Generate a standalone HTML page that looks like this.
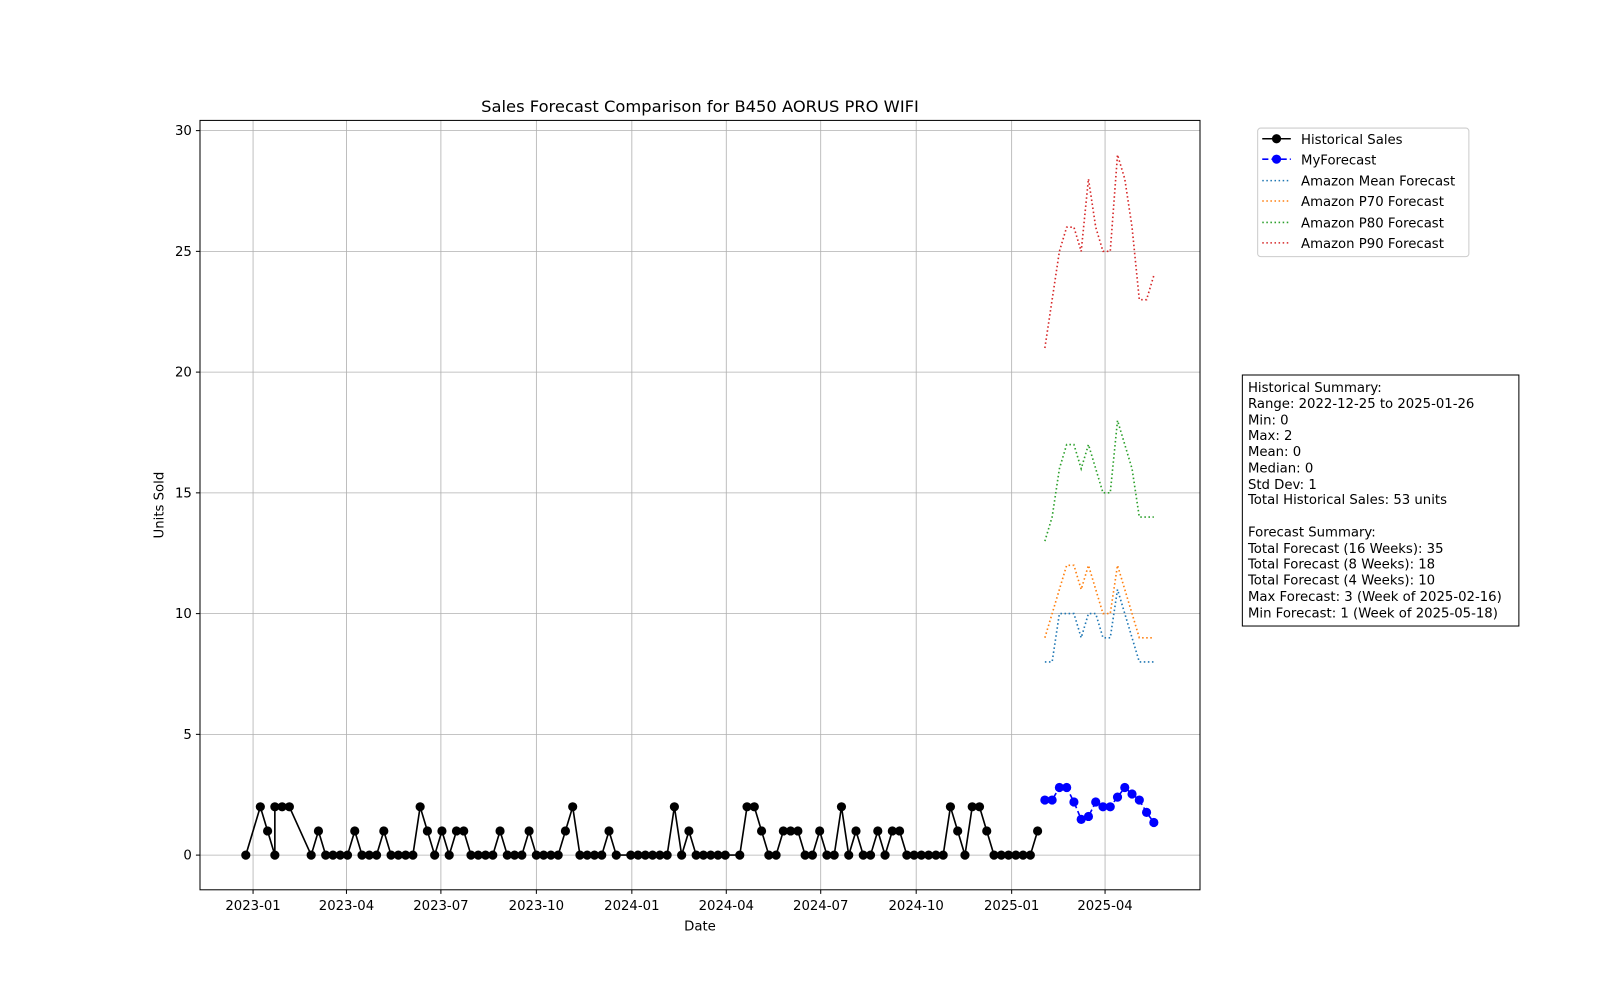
<!DOCTYPE html>
<html><head><meta charset="utf-8"><style>
body{margin:0;background:#fff;}
svg{display:block;font-family:"DejaVu Sans","Liberation Sans",sans-serif;}
</style></head><body>
<svg id="chart" width="1600" height="1000" viewBox="0 0 1568 980">
<rect width="1568" height="980" fill="#fff"/>
<g id="grid"></g>
<g id="series"></g>
<rect x="196" y="118" width="980" height="754" fill="none" stroke="#000" stroke-width="1"/>
<g id="ticks"></g>
<text x="686" y="110" font-size="16" text-anchor="middle">Sales Forecast Comparison for B450 AORUS PRO WIFI</text>
<text x="686" y="912" font-size="13" text-anchor="middle">Date</text>
<text x="160" y="495" font-size="13" text-anchor="middle" transform="rotate(-90 160 495)">Units Sold</text>
<g>
<rect x="1232.5" y="125.5" width="207" height="126" rx="3" fill="#fff" stroke="#ccc"/>
<g><line x1="1237" y1="136" x2="1265" y2="136" stroke="#000" stroke-width="1.5"/><circle cx="1251" cy="136" r="4.5"/><text x="1275" y="141" font-size="13">Historical Sales</text></g>
<g><line x1="1237" y1="156" x2="1265" y2="156" stroke="#00f" stroke-width="1.5" stroke-dasharray="6,3"/><circle cx="1251" cy="156" r="4.5" fill="#00f"/><text x="1275" y="161" font-size="13">MyForecast</text></g>
<g><line x1="1237" y1="177" x2="1265" y2="177" stroke="#1f77b4" stroke-width="1.5" stroke-dasharray="1.5,2.5"/><text x="1275" y="182" font-size="13">Amazon Mean Forecast</text></g>
<g><line x1="1237" y1="197" x2="1265" y2="197" stroke="#ff7f0e" stroke-width="1.5" stroke-dasharray="1.5,2.5"/><text x="1275" y="202" font-size="13">Amazon P70 Forecast</text></g>
<g><line x1="1237" y1="218" x2="1265" y2="218" stroke="#2ca02c" stroke-width="1.5" stroke-dasharray="1.5,2.5"/><text x="1275" y="223" font-size="13">Amazon P80 Forecast</text></g>
<g><line x1="1237" y1="238" x2="1265" y2="238" stroke="#d62728" stroke-width="1.5" stroke-dasharray="1.5,2.5"/><text x="1275" y="243" font-size="13">Amazon P90 Forecast</text></g>
</g>
<g font-size="13">
<rect x="1217.5" y="367.5" width="271" height="246" fill="#fff" stroke="#000"/>
<text x="1223" y="384">Historical Summary:</text>
<text x="1223" y="400">Range: 2022-12-25 to 2025-01-26</text>
<text x="1223" y="416">Min: 0</text>
<text x="1223" y="431">Max: 2</text>
<text x="1223" y="447">Mean: 0</text>
<text x="1223" y="463">Median: 0</text>
<text x="1223" y="479">Std Dev: 1</text>
<text x="1223" y="494">Total Historical Sales: 53 units</text>
<text x="1223" y="526">Forecast Summary:</text>
<text x="1223" y="542">Total Forecast (16 Weeks): 35</text>
<text x="1223" y="557">Total Forecast (8 Weeks): 18</text>
<text x="1223" y="573">Total Forecast (4 Weeks): 10</text>
<text x="1223" y="589">Max Forecast: 3 (Week of 2025-02-16)</text>
<text x="1223" y="605">Min Forecast: 1 (Week of 2025-05-18)</text>
</g>
</svg>
<script>
const histWeeks=[0,2,3,4,4,5,6,9,10,11,12,13,14,15,16,17,18,19,20,21,22,23,24,25,26,27,28,29,30,31,32,33,34,35,36,37,38,39,40,41,42,43,44,45,46,47,48,49,50,51,53,54,55,56,57,58,59,60,61,62,63,64,65,66,68,69,70,71,72,73,74,75,76,77,78,79,80,81,82,83,84,85,86,87,88,89,90,91,92,93,94,95,96,97,98,99,100,101,102,103,104,105,106,107,108,109];
const histValues=[0,2,1,0,2,2,2,0,1,0,0,0,0,1,0,0,0,1,0,0,0,0,2,1,0,1,0,1,1,0,0,0,0,1,0,0,0,1,0,0,0,0,1,2,0,0,0,0,1,0,0,0,0,0,0,0,2,0,1,0,0,0,0,0,0,2,2,1,0,0,1,1,1,0,0,1,0,0,2,0,1,0,0,1,0,1,1,0,0,0,0,0,0,2,1,0,2,2,1,0,0,0,0,0,0,1];
const fcWeeks=[110,111,112,113,114,115,116,117,118,119,120,121,122,123,124,125];
const myForecast=[2.28,2.28,2.8,2.8,2.2,1.48,1.6,2.2,2.0,2.0,2.4,2.8,2.53,2.28,1.77,1.35];
const meanFc=[8,8,10,10,10,9,10,10,9,9,11,10,9,8,8,8];
const p70Fc=[9,10,11,12,12,11,12,11,10,10,12,11,10,9,9,9];
const p80Fc=[13,14,16,17,17,16,17,16,15,15,18,17,16,14,14,14];
const p90Fc=[21,23,25,26,26,25,28,26,25,25,29,28,26,23,23,24];
const yTicks=[0,5,10,15,20,25,30];
const xTickLabels=["2023-01","2023-04","2023-07","2023-10","2024-01","2024-04","2024-07","2024-10","2025-01","2025-04"];

const NS="http://www.w3.org/2000/svg";
const DAY=86400000, T0=Date.UTC(2023,0,1), START=Date.UTC(2022,11,25);
function xDay(ms){return 248+((ms-T0)/DAY)*1.0170;}
function xWeek(k){return xDay(START+k*7*DAY);}
function y(v){return 838-v*(710/30);}
function mk(tag,attrs,parent){const e=document.createElementNS(NS,tag);for(const k in attrs)e.setAttribute(k,attrs[k]);parent.appendChild(e);return e;}
const grid=document.getElementById('grid'),ticks=document.getElementById('ticks'),series=document.getElementById('series');
yTicks.forEach(v=>{
  const l=mk('line',{x1:196,x2:1176,y1:y(v),y2:y(v),stroke:'#b0b0b0','stroke-width':0.8},grid);
  
  
  mk('line',{x1:192,x2:196,y1:y(v),y2:y(v),stroke:'#000'},ticks);
  const t=mk('text',{x:188,y:y(v)+4.5,'font-size':13,'text-anchor':'end'},ticks);
  t.textContent=v;
  
  
});
xTickLabels.forEach(s=>{
  const [yr,mo]=s.split('-').map(Number);
  const x=xDay(Date.UTC(yr,mo-1,1));
  const l=mk('line',{x1:x,x2:x,y1:118,y2:872,stroke:'#b0b0b0','stroke-width':0.8},grid);
  
  
  mk('line',{x1:x,x2:x,y1:872,y2:876,stroke:'#000'},ticks);
  const t=mk('text',{x:x,y:892,'font-size':13,'text-anchor':'middle'},ticks);
  t.textContent=s;
  
  
});
function line(weeks,vals,color,dash,name){
  const p=mk('polyline',{points:weeks.map((w,i)=>xWeek(w)+','+y(vals[i])).join(' '),fill:'none',stroke:color,'stroke-width':1.6},series);
  if(dash)p.setAttribute('stroke-dasharray',dash);
  
  
}
function dots(weeks,vals,color,name){
  weeks.forEach((w,i)=>{
    const c=mk('circle',{cx:xWeek(w),cy:y(vals[i]),r:4.5,fill:color},series);
    
    
  });
}
line(fcWeeks,meanFc,'#1f77b4','1.5,2.5','amazon-mean-line');
line(fcWeeks,p70Fc,'#ff7f0e','1.5,2.5','amazon-p70-line');
line(fcWeeks,p80Fc,'#2ca02c','1.5,2.5','amazon-p80-line');
line(fcWeeks,p90Fc,'#d62728','1.5,2.5','amazon-p90-line');
line(histWeeks,histValues,'#000',null,'historical-line');
dots(histWeeks,histValues,'#000','historical-point');
line(fcWeeks,myForecast,'#00f','6,3','myforecast-line');
dots(fcWeeks,myForecast,'#00f','myforecast-point');
</script>
</body></html>
